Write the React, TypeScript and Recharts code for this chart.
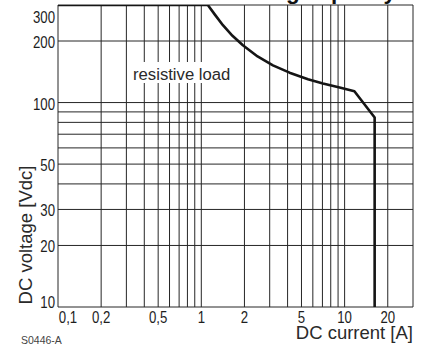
import React from 'react'
import { LineChart, Line, XAxis, YAxis, ReferenceLine } from 'recharts'

// breaking capacity curve (current in A, voltage in Vdc)
const currentA = [0.1, 1.11, 1.24, 1.415, 1.65, 1.95, 2.47, 3.16, 4.13, 5.55, 7.06, 9.23, 11.7, 16.2, 16.2]
const voltageV = [300, 300, 270, 239, 212, 190.5, 168, 152, 140, 130, 124, 118.5, 113.5, 84.5, 10]

const xTicks = [0.1, 0.2, 0.5, 1, 2, 5, 10, 20]
const yTicks = [10, 20, 30, 40, 50, 100, 200, 300]
const xGrid = [0.1, 0.2, 0.3, 0.4, 0.5, 0.6, 0.7, 0.8, 0.9, 1, 2, 3, 4, 5, 6, 7, 8, 9, 10, 20, 30]
const yGrid = [10, 20, 30, 40, 50, 60, 70, 80, 90, 100, 200, 300]

const data = currentA.map((i, k) => ({ i, v: voltageV[k] }))

const font = "'Liberation Sans', Arial, sans-serif"
const ink = '#1e1e1e'
const squeeze = 0.8

function XTick({ x, payload }: any) {
  const shift = payload.value === 0.1 ? 10 : 0
  return (
    <g transform={`translate(${x + shift},322.5) scale(${squeeze},1)`}>
      <text x={0} y={0} textAnchor="middle" style={{ fontFamily: font, fontSize: 16.5, fill: ink }}>
        {String(payload.value).replace('.', ',')}
      </text>
    </g>
  )
}

function YTick({ y, payload }: any) {
  const shift = payload.value === 300 ? 8 : payload.value === 10 ? -5 : 1
  return (
    <g transform={`translate(55,${y + shift + 6}) scale(${squeeze},1)`}>
      <text x={0} y={0} textAnchor="end" style={{ fontFamily: font, fontSize: 16.5, fill: ink }}>
        {payload.value}
      </text>
    </g>
  )
}

export default function App() {
  return (
    <div style={{ position: 'absolute', left: 0, top: 0, width: 426, height: 347, overflow: 'hidden', background: '#fff' }}>
      <LineChart width={426} height={347} data={data} margin={{ top: 5, right: 13, bottom: 0, left: 0 }}>
        <XAxis dataKey="i" type="number" scale="log" domain={[0.1, 30]} allowDataOverflow
          ticks={xTicks} tick={<XTick />} axisLine={false} tickLine={false} height={40} />
        <YAxis dataKey="v" type="number" scale="log" domain={[10, 300]} allowDataOverflow
          ticks={yTicks} tick={<YTick />} axisLine={false} tickLine={false} width={58} />
        {xGrid.map(v => (
          <ReferenceLine key={'x' + v} x={v} stroke="#262626" strokeWidth={1} />
        ))}
        {yGrid.map(v => (
          <ReferenceLine key={'y' + v} y={v} stroke="#262626" strokeWidth={1} />
        ))}
        <Line type="linear" dataKey="v" stroke="#151515" strokeWidth={2.6} dot={false}
          strokeLinejoin="round" isAnimationActive={false} />
      </LineChart>
      <svg width={426} height={347} style={{ position: 'absolute', left: 0, top: 0, pointerEvents: 'none' }}>
        <text x={396} y={-1.5} textAnchor="end" style={{ fontFamily: font, fontWeight: 700, fontSize: 22.5, fill: '#111' }}>
          Max. DC load breaking capacity
        </text>
        <rect x={130} y={62} width={104} height={21} fill="#fff" />
        <text x={133} y={79.5} style={{ fontFamily: font, fontSize: 16.7, fill: '#2a2a2a' }}>
          resistive load
        </text>
        <text x={413} y={339} textAnchor="end" style={{ fontFamily: font, fontSize: 18.5, fill: '#2a2a2a' }}>
          DC current [A]
        </text>
        <text transform="translate(31.5,235) rotate(-90)" textAnchor="middle"
          style={{ fontFamily: font, fontSize: 18.5, fill: '#2a2a2a' }}>
          DC voltage [Vdc]
        </text>
        <text x={21} y={344} style={{ fontFamily: font, fontSize: 10.5, fill: '#444' }}>
          S0446-A
        </text>
      </svg>
    </div>
  )
}
